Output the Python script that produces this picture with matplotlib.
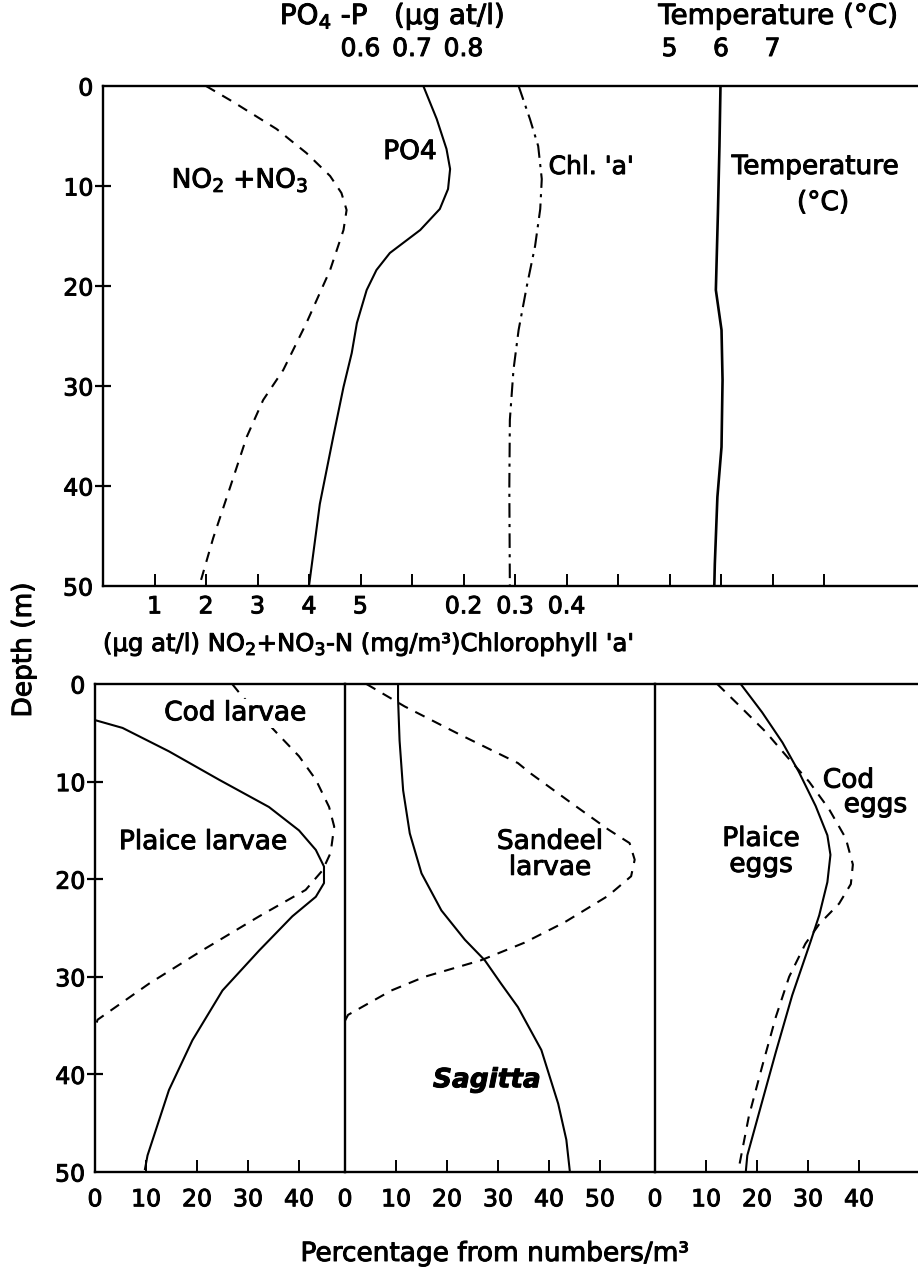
import matplotlib
matplotlib.use("Agg")
import matplotlib.pyplot as plt
import matplotlib.patheffects as pe
from matplotlib.text import Text

# ---- data ------------------------------------------------------------------
# upper panel: depth (m) vs. hydrography
no2_depth = [0, 1.6, 4.3, 6.7, 9.0, 10.7, 12.4, 14.4, 18.4, 23.7, 28.4, 31.4, 35.1, 40.1, 45.2, 50]
no2_value = [2.0, 2.53, 3.37, 3.95, 4.41, 4.63, 4.73, 4.67, 4.41, 3.95, 3.50, 3.11, 2.79, 2.47, 2.14, 1.87]

po4_depth = [0, 3.3, 6.3, 8.3, 10.3, 12.3, 14.4, 16.7, 18.4, 20.4, 23.7, 26.7, 30.1, 35.1, 41.8, 50]
po4_value = [0.722, 0.748, 0.767, 0.774, 0.770, 0.754, 0.716, 0.657, 0.631, 0.612,
             0.593, 0.583, 0.567, 0.547, 0.521, 0.500]

chl_depth = [0, 3.3, 6.0, 9.3, 12.3, 16.0, 20.0, 24.4, 28.4, 33.4, 40.1, 50]
chl_value = [0.307, 0.329, 0.345, 0.352, 0.349, 0.339, 0.323, 0.307, 0.297, 0.290, 0.289, 0.290]

temp_depth = [0, 6.0, 12.7, 20.4, 24.4, 29.4, 36.1, 41.1, 47.8, 50]
temp_value = [5.99, 5.97, 5.94, 5.90, 6.01, 6.03, 6.01, 5.93, 5.88, 5.87]

# lower panels: percentage from numbers/m3
plaice_larvae_depth = [3.7, 4.5, 6.9, 9.8, 12.6, 15.0, 17.0, 18.7, 20.4, 21.8, 23.8, 27.3, 31.4, 36.5, 41.6, 48.3, 49.7]
plaice_larvae = [0, 5.4, 14.5, 24.3, 34.1, 40.0, 43.3, 44.9, 44.9, 43.3, 38.7, 32.2, 25.0, 19.1, 14.5, 10.3, 9.8]

cod_larvae_depth = [0, 1.1, 5.1, 7.4, 9.8, 12.6, 14.6, 17.3, 19.1, 21.1, 23.8, 27.3, 30.7, 34.4, 35.3]
cod_larvae = [26.9, 28.6, 35.8, 40.0, 43.3, 45.9, 46.9, 46.2, 44.6, 41.3, 32.2, 21.0, 10.6, 0.5, 0]

sagitta_depth = [0, 1.5, 5.8, 10.9, 15.3, 19.4, 23.2, 26.2, 28.3, 30.7, 33.1, 37.5, 43.0, 46.7, 50]
sagitta = [10.4, 10.4, 10.7, 11.4, 12.7, 15.0, 18.9, 23.5, 27.4, 30.6, 33.9, 38.5, 41.8, 43.4, 44.1]

sandeel_depth = [0, 2.3, 5.1, 8.1, 9.2, 12.2, 14.9, 16.3, 18.0, 19.7, 21.7, 24.4, 26.5, 28.3, 30.0, 31.4, 33.9, 34.5]
sandeel = [4.2, 11.7, 22.2, 33.9, 36.5, 44.4, 51.6, 55.8, 56.8, 56.1, 51.6, 43.1, 35.2, 26.7, 15.6, 9.1, 0.6, 0]

plaice_eggs_depth = [0, 2.9, 6.0, 9.0, 12.5, 15.5, 17.5, 20.3, 23.7, 26.4, 31.9, 37.7, 42.8, 48.3, 50]
plaice_eggs = [16.8, 21.0, 25.0, 28.2, 31.5, 33.8, 34.4, 33.8, 32.2, 30.5, 26.9, 23.7, 21.0, 18.1, 17.8]

cod_eggs_depth = [0, 2.2, 4.9, 7.7, 10.0, 12.8, 15.8, 18.5, 20.5, 22.5, 24.6, 26.6, 30.0, 34.1, 39.2, 44.3, 49.4, 50]
cod_eggs = [12.2, 16.5, 21.7, 26.3, 30.2, 34.1, 37.4, 38.8, 38.4, 36.1, 32.2, 29.5, 26.3, 23.7, 21.0, 18.4, 16.5, 16.3]

depth_ticks = [0, 10, 20, 30, 40, 50]
no2_ticks = [1, 2, 3, 4, 5]
chl_ticks = [0.2, 0.3, 0.4]
po4_ticks = [0.6, 0.7, 0.8]
temp_ticks = [5, 6, 7]

# ---- style ------------------------------------------------------------------
plt.rcParams["font.family"] = ["DejaVu Sans"]
plt.rcParams["mathtext.fontset"] = "dejavusans"
plt.rcParams["axes.linewidth"] = 1.7
LW = 1.5
FS = 17      # tick labels
LFS = 19     # curve labels

W, H = 918, 1268
fig = plt.figure(figsize=(W / 100, H / 100), dpi=100)


def box(x0, y0, x1, y1):
    """pixel box (top-left origin) -> figure fraction rect"""
    return [x0 / W, 1 - y1 / H, (x1 - x0) / W, (y1 - y0) / H]


def depth_axis(ax, show):
    ax.set_ylim(50, 0)
    ax.set_yticks(depth_ticks)
    if show:
        ax.tick_params(axis="y", direction="inout", length=12, width=1.6,
                       pad=1, labelsize=FS)
        for t in (ax.yaxis.get_major_ticks()[0], ax.yaxis.get_major_ticks()[-1]):
            t.tick1line.set_visible(False)
    else:
        ax.tick_params(axis="y", left=False, labelleft=False)
    ax.spines["right"].set_visible(False)


# ---- upper panel ------------------------------------------------------------
ax = fig.add_axes(box(103, 86, 918, 586))
span = (918 - 103) / 51.5          # width of the panel in NO2 units
ax.set_xlim(0, span)
depth_axis(ax, True)
ax.set_xticks(no2_ticks)
ax.set_xticks(range(6, 15), minor=True)
ax.tick_params(axis="x", which="both", direction="in", top=True, bottom=True,
               length=9, width=1.4, pad=6, labelsize=FS)
ax.plot(no2_value, no2_depth, color="black", lw=LW, dashes=(5, 4))

ax_po4 = ax.twiny()
ax_po4.set_xlim(0.1, 0.1 + span / 10)
ax_po4.plot(po4_value, po4_depth, color="black", lw=LW)
ax_po4.set_xticks(po4_ticks)
ax_po4.tick_params(axis="x", length=0, pad=18, labelsize=18)

ax_tmp = ax.twiny()
ax_tmp.set_xlim(-6, -6 + span)
ax_tmp.plot(temp_value, temp_depth, color="black", lw=LW + 0.4)
ax_tmp.set_xticks(temp_ticks)
ax_tmp.tick_params(axis="x", length=0, pad=18, labelsize=18)

ax_chl = ax.twiny()
ax_chl.set_xlim(-0.5, -0.5 + span / 10)
ax_chl.plot(chl_value, chl_depth, color="black", lw=LW, dashes=(7, 3, 1.5, 3))
ax_chl.xaxis.set_ticks_position("bottom")
ax_chl.set_xticks(chl_ticks)
ax_chl.tick_params(axis="x", length=0, pad=6, labelsize=FS)

for tw in (ax_po4, ax_tmp, ax_chl):
    for s in tw.spines.values():
        s.set_visible(False)
    tw.set_ylim(50, 0)

ax.text(2.66, 9.4, "NO$_2$ +NO$_3$", fontsize=LFS, ha="center", va="center")
ax.text(5.96, 6.6, "PO4", fontsize=LFS, ha="center", va="center")
ax.text(9.48, 8.1, "Chl. 'a'", fontsize=LFS - 1, ha="center", va="center")
ax.text(13.83, 8.1, "Temperature", fontsize=LFS, ha="center", va="center")
ax.text(13.98, 11.7, "(°C)", fontsize=LFS, ha="center", va="center")

fig.text(392 / W, 1 - 16 / H, "PO$_4$ -P   (µg at/l)", fontsize=20, ha="center", va="center")
fig.text(778 / W, 1 - 16 / H, "Temperature (°C)", fontsize=20, ha="center", va="center")
fig.text(103 / W, 1 - 644 / H, "(µg at/l) NO$_2$+NO$_3$-N (mg/m³)Chlorophyll 'a'",
         fontsize=17.5, ha="left", va="center")
fig.text(24 / W, 1 - 650 / H, "Depth (m)", fontsize=19, rotation=90,
         ha="center", va="center")

# ---- lower panels -----------------------------------------------------------
PX = 5.1   # pixels per percent
ax1 = fig.add_axes(box(95, 684, 345, 1172))
ax2 = fig.add_axes(box(345, 684, 655, 1172))
ax3 = fig.add_axes(box(655, 684, 918, 1172))
ax1.set_xlim(0, 250 / PX)
ax2.set_xlim(0, 310 / PX)
ax3.set_xlim(0, 263 / PX)
ax1.set_xticks([0, 10, 20, 30, 40])
ax2.set_xticks([0, 10, 20, 30, 40, 50])
ax3.set_xticks([0, 10, 20, 30, 40])
for a, show in ((ax1, True), (ax2, False), (ax3, False)):
    depth_axis(a, show)
    a.tick_params(axis="x", direction="in", length=9, width=1.4, pad=11, labelsize=FS)

ax1.plot(plaice_larvae, plaice_larvae_depth, color="black", lw=LW)
ax1.plot(cod_larvae, cod_larvae_depth, color="black", lw=LW, dashes=(5, 4))
ax2.plot(sagitta, sagitta_depth, color="black", lw=LW)
ax2.plot(sandeel, sandeel_depth, color="black", lw=LW, dashes=(5, 4))
ax3.plot(plaice_eggs, plaice_eggs_depth, color="black", lw=LW)
ax3.plot(cod_eggs, cod_eggs_depth, color="black", lw=LW, dashes=(5, 4))

ax1.text(27.5, 3.0, "Cod larvae", fontsize=LFS, ha="center", va="center", zorder=5,
         bbox=dict(facecolor="white", edgecolor="none", pad=1))
ax1.text(21.2, 16.2, "Plaice larvae", fontsize=LFS, ha="center", va="center")
ax2.text(40.2, 17.5, "Sandeel\nlarvae", fontsize=LFS, ha="center", va="center",
         linespacing=1.0)
ax2.text(27.8, 40.6, "Sagitta", fontsize=LFS, ha="center", va="center",
         fontweight="bold", fontstyle="italic")
ax3.text(20.8, 17.2, "Plaice\neggs", fontsize=LFS, ha="center", va="center",
         linespacing=1.0)
ax3.text(32.9, 9.9, "Cod", fontsize=LFS, ha="left", va="center")
ax3.text(37.0, 12.4, "eggs", fontsize=LFS, ha="left", va="center")

fig.text(495 / W, 1 - 1254 / H, "Percentage from numbers/m³", fontsize=19,
         ha="center", va="center")

# heavier, print-like lettering
for t in fig.findobj(Text):
    t.set_path_effects([pe.withStroke(linewidth=0.7, foreground="black")])

fig.savefig("out.png", dpi=100)
